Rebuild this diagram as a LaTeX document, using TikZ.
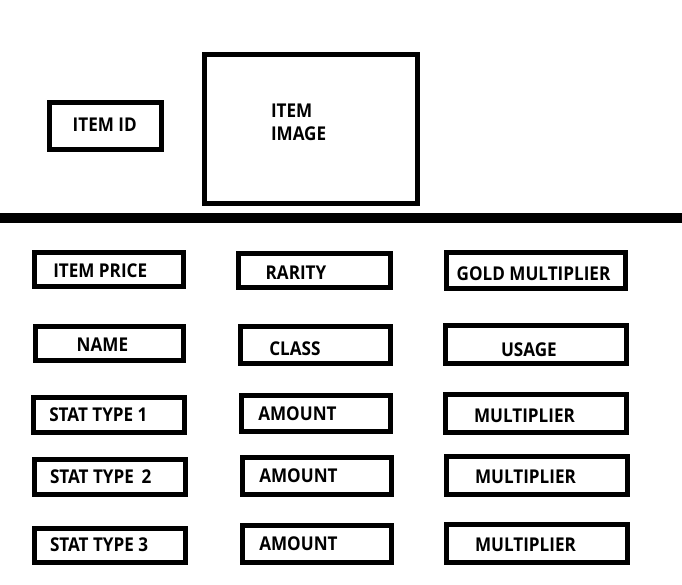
\documentclass[tikz,border=0pt]{standalone}
\usepackage{fontspec}
\setmainfont{Open Sans}[FakeStretch=0.9]
\begin{document}
\begin{tikzpicture}[x=1pt,y=-1pt,
  box/.style={draw, line width=5pt, inner sep=0pt, outer sep=0pt},
  lbl/.style={anchor=base west, inner sep=0pt, outer sep=0pt, font=\bfseries\fontsize{19}{23}\selectfont}]
\useasboundingbox (0,0) rectangle (682,584);
% top area
\node[box, minimum width=111.7pt, minimum height=46.7pt] (idbox) at (105.7,125.8) {};
\node[lbl] (idtxt) at (72.7,131.7) {ITEM ID};
\node[box, minimum width=213pt, minimum height=148.7pt] (imgbox) at (311,128.8) {};
\node[lbl] (imgtxta) at (271,117) {ITEM};
\node[lbl] (imgtxtb) at (271,140.7) {IMAGE};
% divider
\coordinate (barL) at (0,217.7);
\coordinate (barR) at (682,217.7);
\draw[line width=10pt] (barL) -- (barR);
% column 1
\node[box, minimum width=148.7pt, minimum height=34.3pt] (pricebox) at (108.8,269.7) {};
\node[lbl] (pricetxt) at (53.3,277.3) {ITEM PRICE};
\node[box, minimum width=147.4pt, minimum height=34.3pt] (namebox) at (109.5,343.7) {};
\node[lbl] (nametxt) at (76.7,351.3) {NAME};
\node[box, minimum width=150.7pt, minimum height=34.7pt] (staonebox) at (108.8,414.8) {};
\node[lbl] (staonetxt) at (49.3,421.3) {STAT TYPE 1};
\node[box, minimum width=150.7pt, minimum height=34.4pt] (statwobox) at (109.8,477) {};
\node[lbl] (statwotxt) at (50,483.3) {STAT TYPE\hspace{0.4em}2};
\node[box, minimum width=150.7pt, minimum height=34pt] (stathreebox) at (109.8,545.2) {};
\node[lbl] (stathreetxt) at (50,551) {STAT TYPE 3};
% column 2
\node[box, minimum width=151.7pt, minimum height=33.7pt] (raritybox) at (314.3,270.3) {};
\node[lbl] (raritytxt) at (265.7,279.3) {RARITY};
\node[box, minimum width=149.4pt, minimum height=36.4pt] (classbox) at (315.5,345) {};
\node[lbl] (classtxt) at (269.3,355) {CLASS};
\node[box, minimum width=148.7pt, minimum height=36pt] (amonebox) at (315.8,413.8) {};
\node[lbl] (amonetxt) at (258.3,420) {AMOUNT};
\node[box, minimum width=149pt, minimum height=36.7pt] (amtwobox) at (317,475.8) {};
\node[lbl] (amtwotxt) at (259.3,482.3) {AMOUNT};
\node[box, minimum width=149pt, minimum height=36.4pt] (amthreebox) at (317,544) {};
\node[lbl] (amthreetxt) at (259.3,550) {AMOUNT};
% column 3
\node[box, minimum width=179pt, minimum height=36pt] (goldbox) at (536,270.5) {};
\node[lbl] (goldtxt) at (456.7,280.3) {GOLD MULTIPLIER};
\node[box, minimum width=180.7pt, minimum height=37.4pt] (usagebox) at (536.2,344.5) {};
\node[lbl] (usagetxt) at (501,356) {USAGE};
\node[box, minimum width=180.7pt, minimum height=37.4pt] (muonebox) at (536.2,413.5) {};
\node[lbl] (muonetxt) at (474,422) {MULTIPLIER};
\node[box, minimum width=180.7pt, minimum height=38pt] (mutwobox) at (536.8,475.5) {};
\node[lbl] (mutwotxt) at (475,483.7) {MULTIPLIER};
\node[box, minimum width=180.7pt, minimum height=38pt] (muthreebox) at (536.8,543.2) {};
\node[lbl] (muthreetxt) at (475,551.7) {MULTIPLIER};
\end{tikzpicture}
\end{document}
